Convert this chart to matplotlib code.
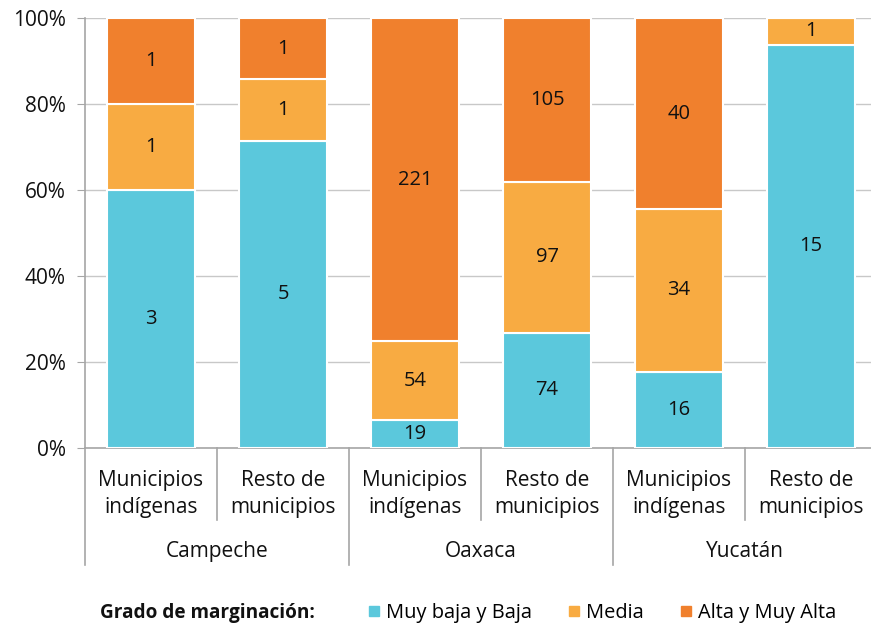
import numpy as np
import matplotlib
matplotlib.use('Agg')
import matplotlib.pyplot as plt
from matplotlib.lines import Line2D

plt.rcParams['font.family'] = ['Open Sans', 'DejaVu Sans']

# data (number of municipalities)
estados = ['Campeche', 'Oaxaca', 'Yucatán']
grupos = ['Municipios\nindígenas', 'Resto de\nmunicipios'] * 3
baja = np.array([3, 5, 19, 74, 16, 15])
media = np.array([1, 1, 54, 97, 34, 1])
alta = np.array([1, 1, 221, 105, 40, 0])
series_names = ['Muy baja y Baja', 'Media', 'Alta y Muy Alta']
colors = ['#5BC8DC', '#F8AB42', '#F0802D']

total = baja + media + alta
series = [baja, media, alta]

fig = plt.figure(figsize=(8.71, 6.29), dpi=100)
ax = fig.add_axes([85/871, 1-448/629, 792/871, 430/629])

x = np.arange(len(grupos))
bottom = np.zeros(len(grupos))
for vals, c in zip(series, colors):
    pct = vals / total * 100
    ax.bar(x, pct, bottom=bottom, width=0.667, color=c, edgecolor='white',
           linewidth=1.5, zorder=3)
    for xi, p, b, v in zip(x, pct, bottom, vals):
        if v > 0:
            ax.text(xi, b + p/2, str(v), ha='center', va='center',
                    fontsize=14.5, color='#111111', zorder=4)
    bottom += pct

ax.set_xlim(-0.5, 5.5)
ax.set_ylim(0, 100)
ax.set_yticks(np.arange(0, 101, 20))
ax.set_yticklabels([f'{v}%' for v in range(0, 101, 20)], fontsize=15,
                   color='#111111')
ax.yaxis.grid(True, color='#C8C8C8', linewidth=1, zorder=0)
ax.tick_params(axis='y', length=6, color='#A6A6A6', pad=8)
ax.set_xticks([])
for s in ['top', 'right']:
    ax.spines[s].set_visible(False)
for s in ['left', 'bottom']:
    ax.spines[s].set_color('#A6A6A6')
    ax.spines[s].set_linewidth(1.2)

# two level category axis
tr = ax.get_xaxis_transform()
for i, sep in enumerate(np.arange(-0.5, 5.5, 1.0)):
    low = -0.272 if i % 2 == 0 else -0.167
    ax.plot([sep, sep], [0, low], transform=tr, color='#A6A6A6',
            linewidth=1.2, clip_on=False)
for xi, g in zip(x, grupos):
    ax.text(xi, -0.107, g, transform=tr, ha='center', va='center',
            fontsize=15, linespacing=1.4, color='#111111')
for k, e in enumerate(estados):
    ax.text(2*k + 0.5, -0.24, e, transform=tr, ha='center', va='center',
            fontsize=15, color='#111111')

# legend
fig.text(100/871, 1-613/629, 'Grado de marginación:', fontsize=13.7,
         fontweight='bold', ha='left', va='center', color='#111111')
handles = [Line2D([], [], marker='s', linestyle='none', markersize=7,
                  color=c) for c in colors]
fig.legend(handles, series_names, loc='center left',
           bbox_to_anchor=(358/871, 1-613/629), ncol=3, frameon=False,
           fontsize=14.4, handlelength=0.6, handletextpad=0.3,
           columnspacing=1.8, borderpad=0)

fig.savefig('out.png', dpi=100)
